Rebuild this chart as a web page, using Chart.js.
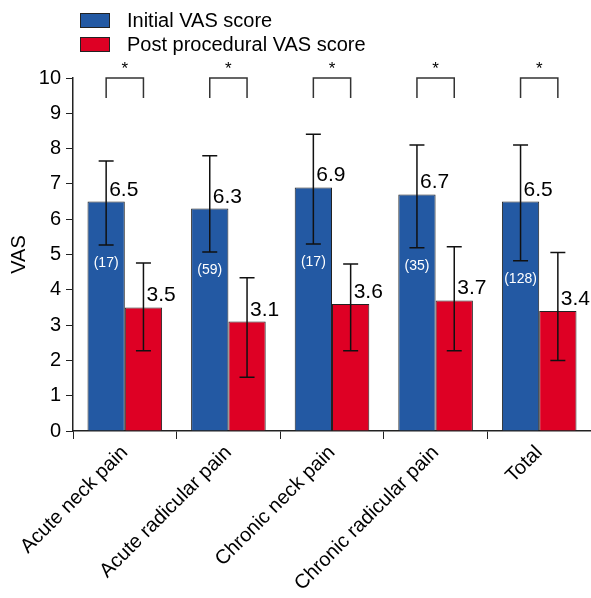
<!DOCTYPE html>
<html>
<head>
<meta charset="utf-8">
<script src="https://cdn.jsdelivr.net/npm/chart.js@4.4.1/dist/chart.umd.min.js"></script>
<style>
  html, body { margin: 0; padding: 0; background: #fff; }
  #wrap { width: 591px; height: 598px; position: relative; }
</style>
</head>
<body>
<div id="wrap"><canvas id="vasChart"></canvas></div>
<script>
// VAS before / after procedure, per pain group

const categories = ["Acute neck pain", "Acute radicular pain", "Chronic neck pain", "Chronic radicular pain", "Total"];
const initialVas = [6.5, 6.3, 6.9, 6.7, 6.5];
const postVas = [3.5, 3.1, 3.6, 3.7, 3.4];
// error bar ends
const initialUpper = [7.65, 7.8, 8.41, 8.1, 8.1];
const initialLower = [5.27, 5.07, 5.3, 5.19, 4.82];
const postUpper = [4.76, 4.34, 4.73, 5.22, 5.06];
const postLower = [2.27, 1.52, 2.27, 2.27, 2.0];
const patientCounts = [17, 59, 17, 35, 128];
const significant = ["*", "*", "*", "*", "*"];
const yTicks = [0, 1, 2, 3, 4, 5, 6, 7, 8, 9, 10];

const BLUE = "#2359a3";
const RED = "#de0024";
const FONT = "'Liberation Sans', Arial, sans-serif";

const extrasPlugin = {
  id: "extras",
  afterDatasetsDraw(chart) {
    const ctx = chart.ctx;
    const y = chart.scales.y;
    const errs = [
      { upper: initialUpper, lower: initialLower, vals: initialVas },
      { upper: postUpper, lower: postLower, vals: postVas },
    ];

    ctx.save();
    errs.forEach((e, di) => {
      const meta = chart.getDatasetMeta(di);
      meta.data.forEach((bar, i) => {
        const x = bar.x;
        const yu = y.getPixelForValue(e.upper[i]);
        const yl = y.getPixelForValue(e.lower[i]);
        ctx.strokeStyle = "#111";
        ctx.lineWidth = 1.5;
        ctx.beginPath();
        ctx.moveTo(x, yu);
        ctx.lineTo(x, yl);
        ctx.moveTo(x - 7.5, yu);
        ctx.lineTo(x + 7.5, yu);
        ctx.moveTo(x - 7.5, yl);
        ctx.lineTo(x + 7.5, yl);
        ctx.stroke();

        // value label
        ctx.fillStyle = "#000";
        ctx.font = "21px " + FONT;
        ctx.textAlign = "left";
        ctx.textBaseline = "alphabetic";
        ctx.fillText(e.vals[i].toFixed(1), x + 3, bar.y - 6);

        if (di === 0) {
          ctx.fillStyle = "#fff";
          ctx.font = "14px " + FONT;
          ctx.textAlign = "center";
          ctx.textBaseline = "middle";
          ctx.fillText("(" + patientCounts[i] + ")", x, yl + 18);
        }
      });
    });

    // significance brackets
    const m0 = chart.getDatasetMeta(0);
    const m1 = chart.getDatasetMeta(1);
    const top = y.getPixelForValue(10);
    categories.forEach((c, i) => {
      const x0 = m0.data[i].x;
      const x1 = m1.data[i].x;
      ctx.strokeStyle = "#333";
      ctx.lineWidth = 1.5;
      ctx.beginPath();
      ctx.moveTo(x0, top + 20);
      ctx.lineTo(x0, top);
      ctx.lineTo(x1, top);
      ctx.lineTo(x1, top + 20);
      ctx.stroke();
      ctx.fillStyle = "#000";
      ctx.font = "17px " + FONT;
      ctx.textAlign = "center";
      ctx.textBaseline = "middle";
      ctx.fillText(significant[i], (x0 + x1) / 2, top - 9);
    });

    // legend
    const items = chart.data.datasets;
    items.forEach((ds, i) => {
      const ly = 13 + i * 24;
      ctx.fillStyle = ds.backgroundColor;
      ctx.fillRect(80, ly, 30, 15);
      ctx.strokeStyle = "#222";
      ctx.lineWidth = 1;
      ctx.strokeRect(80.5, ly + 0.5, 29, 14);
      ctx.fillStyle = "#000";
      ctx.font = "20px " + FONT;
      ctx.textAlign = "left";
      ctx.textBaseline = "middle";
      ctx.fillText(ds.label, 127, ly + 8);
    });
    ctx.restore();
  },
};

new Chart(document.getElementById("vasChart"), {
  type: "bar",
  data: {
    labels: categories,
    datasets: [
      {
        label: "Initial VAS score",
        data: initialVas,
        backgroundColor: BLUE,
        borderColor: "#222",
        borderWidth: 1,
        categoryPercentage: 0.72,
        barPercentage: 1,
      },
      {
        label: "Post procedural VAS score",
        data: postVas,
        backgroundColor: RED,
        borderColor: "#222",
        borderWidth: 1,
        categoryPercentage: 0.72,
        barPercentage: 1,
      },
    ],
  },
  options: {
    responsive: true,
    maintainAspectRatio: false,
    animation: false,
    layout: { padding: { top: 78, right: 0, left: 0, bottom: 0 } },
    plugins: {
      legend: { display: false },
      tooltip: { enabled: false },
    },
    scales: {
      x: {
        grid: { offset: true, drawOnChartArea: false, tickLength: 8, color: "#222" },
        border: { color: "#222", width: 1.5 },
        ticks: {
          color: "#000",
          font: { size: 20, family: FONT },
          minRotation: 45,
          maxRotation: 45,
          padding: 2,
        },
        afterFit(scale) {
          scale.height = 167;
        },
      },
      y: {
        min: 0,
        max: 10,
        afterBuildTicks(scale) {
          scale.ticks = yTicks.map((v) => ({ value: v }));
        },
        grid: { drawOnChartArea: false, tickLength: 7, color: "#222" },
        border: { color: "#222", width: 1.5 },
        ticks: {
          color: "#000",
          font: { size: 20, family: FONT },
          padding: 5,
        },
        title: {
          display: true,
          text: "VAS",
          color: "#000",
          font: { size: 20, family: FONT },
          padding: { top: 7, bottom: 0 },
        },
        afterFit(scale) {
          scale.width = 73;
        },
      },
    },
  },
  plugins: [extrasPlugin],
});
</script>
</body>
</html>
